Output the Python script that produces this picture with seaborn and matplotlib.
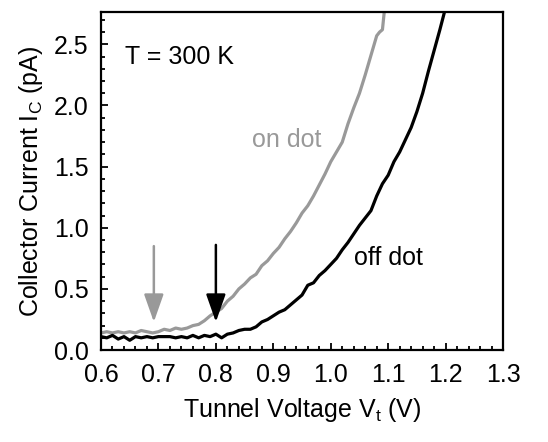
import numpy as np
import pandas as pd
import matplotlib
matplotlib.use("Agg")
import matplotlib.pyplot as plt
import seaborn as sns
from matplotlib.ticker import MultipleLocator

# ---- data ----
on_v = [0.60, 0.61, 0.62, 0.63, 0.64, 0.65, 0.66, 0.67, 0.68, 0.69,
        0.70, 0.71, 0.72, 0.73, 0.74, 0.75, 0.76, 0.77, 0.78, 0.79,
        0.80, 0.81, 0.82, 0.83, 0.84, 0.85, 0.86, 0.87, 0.88, 0.89,
        0.90, 0.91, 0.92, 0.93, 0.94, 0.95, 0.96, 0.97, 0.98, 0.99,
        1.00, 1.01, 1.02, 1.03, 1.04, 1.05, 1.06, 1.07, 1.08, 1.085,
        1.09, 1.095]
on_i = [0.14, 0.15, 0.14, 0.15, 0.14, 0.15, 0.14, 0.16, 0.15, 0.14,
        0.15, 0.17, 0.16, 0.18, 0.17, 0.18, 0.20, 0.21, 0.24, 0.28,
        0.31, 0.34, 0.40, 0.44, 0.50, 0.54, 0.59, 0.62, 0.69, 0.73,
        0.79, 0.84, 0.91, 0.97, 1.04, 1.12, 1.18, 1.26, 1.35, 1.44,
        1.54, 1.62, 1.70, 1.85, 1.98, 2.10, 2.25, 2.41, 2.57, 2.60,
        2.62, 2.85]

off_v = [0.60, 0.61, 0.62, 0.63, 0.64, 0.65, 0.66, 0.67, 0.68, 0.69,
         0.70, 0.71, 0.72, 0.73, 0.74, 0.75, 0.76, 0.77, 0.78, 0.79,
         0.80, 0.81, 0.82, 0.83, 0.84, 0.85, 0.86, 0.87, 0.88, 0.89,
         0.90, 0.91, 0.92, 0.93, 0.94, 0.95, 0.96, 0.97, 0.98, 0.99,
         1.00, 1.01, 1.02, 1.03, 1.04, 1.05, 1.06, 1.07, 1.08, 1.09,
         1.10, 1.11, 1.12, 1.13, 1.14, 1.15, 1.16, 1.17, 1.18, 1.19,
         1.20]
off_i = [0.11, 0.10, 0.12, 0.09, 0.11, 0.08, 0.11, 0.10, 0.11, 0.10,
         0.11, 0.11, 0.11, 0.10, 0.11, 0.10, 0.12, 0.10, 0.12, 0.11,
         0.13, 0.10, 0.13, 0.14, 0.16, 0.17, 0.17, 0.19, 0.23, 0.25,
         0.28, 0.31, 0.33, 0.37, 0.41, 0.45, 0.53, 0.55, 0.61, 0.65,
         0.70, 0.75, 0.82, 0.88, 0.95, 1.02, 1.08, 1.14, 1.26, 1.36,
         1.43, 1.54, 1.62, 1.72, 1.82, 1.95, 2.10, 2.28, 2.45, 2.62,
         2.80]

arrow_v = [0.692, 0.80]
arrow_top = [0.85, 0.86]
arrow_tip = [0.23, 0.23]

x_ticks = [0.6, 0.7, 0.8, 0.9, 1.0, 1.1, 1.2, 1.3]
y_ticks = [0.0, 0.5, 1.0, 1.5, 2.0, 2.5]

GRAY = "#999999"
BLACK = "#000000"

sns.set_style("ticks")
plt.rcParams["font.family"] = ["Liberation Sans", "DejaVu Sans"]
plt.rcParams["mathtext.fontset"] = "custom"
plt.rcParams["mathtext.rm"] = "Liberation Sans"
plt.rcParams["mathtext.it"] = "Liberation Sans"
for k in ["text.color", "axes.labelcolor", "xtick.color", "ytick.color", "axes.edgecolor"]:
    plt.rcParams[k] = "black"

df_on = pd.DataFrame({"V": on_v, "I": on_i})
df_off = pd.DataFrame({"V": off_v, "I": off_i})

fig = plt.figure(figsize=(5.48, 4.42), dpi=100)
ax = fig.add_axes([0.1843, 0.208, 0.7337, 0.765])

sns.lineplot(data=df_on, x="V", y="I", ax=ax, color=GRAY, lw=2.3, estimator=None, sort=False)
sns.lineplot(data=df_off, x="V", y="I", ax=ax, color=BLACK, lw=2.3, estimator=None, sort=False)

for v, top, tip, c in zip(arrow_v, arrow_top, arrow_tip, [GRAY, BLACK]):
    ax.annotate("", xy=(v, tip), xytext=(v, top),
                arrowprops=dict(arrowstyle="-|>,head_length=0.85,head_width=0.3",
                                color=c, lw=1.8, mutation_scale=20,
                                shrinkA=0, shrinkB=0))

ax.text(0.642, 2.40, "T = 300 K", fontsize=18, va="center", ha="left", color=BLACK)
ax.text(0.863, 1.72, "on dot", fontsize=18, va="center", ha="left", color=GRAY)
ax.text(1.041, 0.75, "off dot", fontsize=18, va="center", ha="left", color=BLACK)

ax.set_xlim(0.6, 1.3)
ax.set_ylim(0.0, 2.765)
ax.set_xticks(x_ticks)
ax.set_xticklabels([f"{t:.1f}" for t in x_ticks])
ax.set_yticks(y_ticks)
ax.set_yticklabels([f"{t:.1f}" for t in y_ticks])
ax.xaxis.set_minor_locator(MultipleLocator(0.02))
ax.yaxis.set_minor_locator(MultipleLocator(0.1))
ax.tick_params(which="both", direction="in", top=False, right=False, width=1.3, color="black")
ax.tick_params(which="major", length=5, labelsize=18, pad=9, labelcolor="black")
ax.tick_params(which="minor", length=3)
for s in ax.spines.values():
    s.set_linewidth(1.6)
    s.set_color("black")
    s.set_visible(True)

ax.set_xlabel(r"Tunnel Voltage V$_\mathregular{t}$ (V)", fontsize=18, labelpad=7, color="black")
ax.set_ylabel(r"Collector Current I$_\mathregular{C}$ (pA)", fontsize=18, labelpad=6, color="black")

fig.savefig("out.png", dpi=100)
